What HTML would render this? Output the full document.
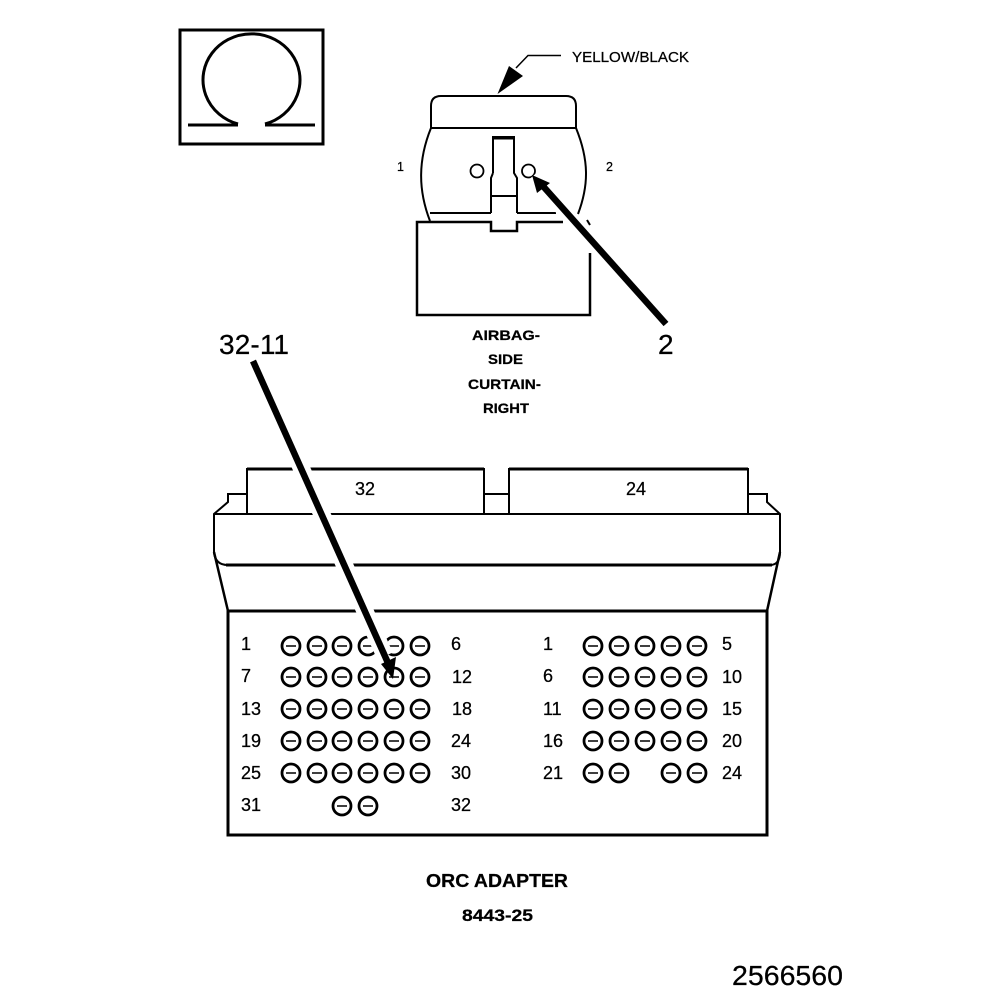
<!DOCTYPE html>
<html><head><meta charset="utf-8"><style>
html,body{margin:0;padding:0;background:#fff}
svg{display:block}
text{font-family:"Liberation Sans",sans-serif;fill:#000;stroke:#000;stroke-width:.25px}
.n{font-size:18px}
.l{font-size:14px;font-weight:bold}
</style></head><body>
<svg width="1008" height="1000" viewBox="0 0 1008 1000" xmlns="http://www.w3.org/2000/svg">
<rect width="1008" height="1000" fill="#fff"/>
<g fill="none" stroke="#000">
<!-- omega -->
<rect x="180" y="30" width="143" height="114" stroke-width="3"/>
<path d="M238 124A48.500 46 0 1 1 265 124" stroke-width="3"/>
<path d="M188 125H238M265 125H315" stroke-width="3"/>
<!-- airbag connector -->
<path d="M431 128V106Q431 96 441 96H566Q576 96 576 106V128Z" stroke-width="2"/>
<path d="M431 128C418 160 418 190 430 221M576 128C589 160 589 185 578 214" stroke-width="2"/>
<path d="M493 173V137H514V173L517 178V213M493 173L491 178V213M491 196H517" stroke-width="2"/>
<path d="M493 138H514" stroke-width="3"/>
<path d="M430 213H491M517 213H556" stroke-width="2"/>
<path d="M590 253V315H417V222H491V231H517V222H563" stroke-width="2.500"/>
<path d="M587 220L590 225" stroke-width="2"/>
<circle cx="477" cy="171" r="6.500" stroke-width="1.800"/>
<circle cx="528.500" cy="171" r="6.500" stroke-width="1.800"/>
<!-- adapter housing -->
<path d="M247 513V469H484V513M509 513V469H748V513" stroke-width="2"/>
<path d="M247 469H484M509 469H748" stroke-width="3"/>
<path d="M247 494H228V502L214 514V552Q215 565 228 565H770Q780 565 780 552V514L767 502V494H748M484 494H509" stroke-width="2"/>
<path d="M226 565H772" stroke-width="3"/>
<path d="M214 514H780" stroke-width="2"/>
<path d="M214 552L228 611M780 552L767 611" stroke-width="2.500"/>
<rect x="228" y="611" width="539" height="224" stroke-width="3"/>
<path d="M228 611H767" stroke-width="2"/>
</g>
<!-- pin circles -->
<defs>
<g id="p"><circle r="9" fill="#fff" stroke="#000" stroke-width="2.800"/><path d="M-5 0H5" stroke="#000" stroke-width="1.500"/></g>
</defs>
<g>
<use href="#p" x="291" y="646"/><use href="#p" x="317" y="646"/><use href="#p" x="342" y="646"/><use href="#p" x="368" y="646"/><use href="#p" x="394" y="646"/><use href="#p" x="420" y="646"/>
</g>
<!-- halos -->
<path d="M254 362L385 656" stroke="#fff" stroke-width="17" fill="none"/>
<path d="M533 176L646 304" stroke="#fff" stroke-width="14" fill="none"/>
<g>
<use href="#p" x="291" y="677"/><use href="#p" x="317" y="677"/><use href="#p" x="342" y="677"/><use href="#p" x="368" y="677"/><use href="#p" x="394" y="677"/><use href="#p" x="420" y="677"/>
<use href="#p" x="291" y="709"/><use href="#p" x="317" y="709"/><use href="#p" x="342" y="709"/><use href="#p" x="368" y="709"/><use href="#p" x="394" y="709"/><use href="#p" x="420" y="709"/>
<use href="#p" x="291" y="741"/><use href="#p" x="317" y="741"/><use href="#p" x="342" y="741"/><use href="#p" x="368" y="741"/><use href="#p" x="394" y="741"/><use href="#p" x="420" y="741"/>
<use href="#p" x="291" y="773"/><use href="#p" x="317" y="773"/><use href="#p" x="342" y="773"/><use href="#p" x="368" y="773"/><use href="#p" x="394" y="773"/><use href="#p" x="420" y="773"/>
<use href="#p" x="342" y="806"/><use href="#p" x="368" y="806"/>
<use href="#p" x="593" y="646"/><use href="#p" x="619" y="646"/><use href="#p" x="645" y="646"/><use href="#p" x="671" y="646"/><use href="#p" x="697" y="646"/>
<use href="#p" x="593" y="677"/><use href="#p" x="619" y="677"/><use href="#p" x="645" y="677"/><use href="#p" x="671" y="677"/><use href="#p" x="697" y="677"/>
<use href="#p" x="593" y="709"/><use href="#p" x="619" y="709"/><use href="#p" x="645" y="709"/><use href="#p" x="671" y="709"/><use href="#p" x="697" y="709"/>
<use href="#p" x="593" y="741"/><use href="#p" x="619" y="741"/><use href="#p" x="645" y="741"/><use href="#p" x="671" y="741"/><use href="#p" x="697" y="741"/>
<use href="#p" x="593" y="773"/><use href="#p" x="619" y="773"/><use href="#p" x="671" y="773"/><use href="#p" x="697" y="773"/>
</g>
<!-- arrows -->
<path d="M253 361L388 663" stroke="#000" stroke-width="6.500" fill="none"/>
<polygon points="393,679 381,664 396,657" fill="#000"/>
<path d="M666 324L542 185" stroke="#000" stroke-width="6.500" fill="none"/>
<polygon points="532,175 537,193 550,183" fill="#000"/>
<path d="M516 68L528 55.500H561" stroke="#000" stroke-width="1.500" fill="none"/>
<polygon points="497.500,94 509,66 523,76" fill="#000"/>
<!-- labels -->
<text x="572" y="62" font-size="14.500" textLength="117" lengthAdjust="spacingAndGlyphs">YELLOW/BLACK</text>
<text x="397" y="171" font-size="12.500">1</text>
<text x="606" y="171" font-size="12.500">2</text>
<text x="219" y="354" font-size="28" textLength="70" lengthAdjust="spacing">32-11</text>
<text x="658" y="354" font-size="28">2</text>
<text x="472" y="340" class="l" textLength="68" lengthAdjust="spacingAndGlyphs">AIRBAG-</text>
<text x="488" y="364" class="l" textLength="35" lengthAdjust="spacingAndGlyphs">SIDE</text>
<text x="468" y="389" class="l" textLength="73" lengthAdjust="spacingAndGlyphs">CURTAIN-</text>
<text x="483" y="413" class="l" textLength="46" lengthAdjust="spacingAndGlyphs">RIGHT</text>
<text x="355" y="495" class="n">32</text>
<text x="626" y="495" class="n">24</text>
<text x="241" y="650" class="n">1</text><text x="451" y="650" class="n">6</text>
<text x="241" y="682" class="n">7</text><text x="452" y="683" class="n">12</text>
<text x="241" y="715" class="n">13</text><text x="452" y="715" class="n">18</text>
<text x="241" y="747" class="n">19</text><text x="451" y="747" class="n">24</text>
<text x="241" y="779" class="n">25</text><text x="451" y="779" class="n">30</text>
<text x="241" y="811" class="n">31</text><text x="451" y="811" class="n">32</text>
<text x="543" y="650" class="n">1</text><text x="722" y="650" class="n">5</text>
<text x="543" y="682" class="n">6</text><text x="722" y="683" class="n">10</text>
<text x="543" y="715" class="n">11</text><text x="722" y="715" class="n">15</text>
<text x="543" y="747" class="n">16</text><text x="722" y="747" class="n">20</text>
<text x="543" y="779" class="n">21</text><text x="722" y="779" class="n">24</text>
<text x="426" y="887" font-size="18" font-weight="bold" textLength="142" lengthAdjust="spacingAndGlyphs">ORC ADAPTER</text>
<text x="462" y="921" font-size="16.500" font-weight="bold" textLength="71" lengthAdjust="spacingAndGlyphs">8443-25</text>
<text x="732" y="985" font-size="28" textLength="111" lengthAdjust="spacingAndGlyphs">2566560</text>
</svg>
</body></html>
